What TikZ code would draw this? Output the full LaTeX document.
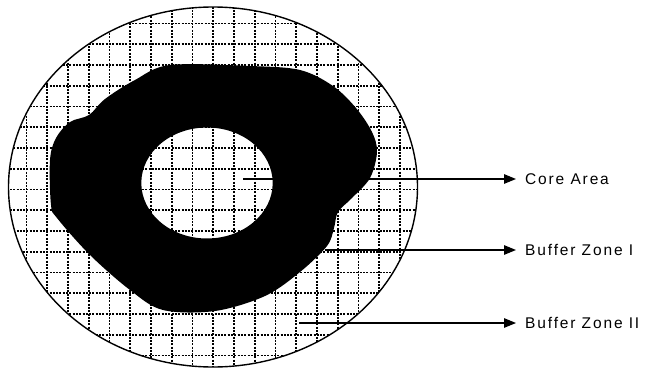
\documentclass[tikz,border=0pt]{standalone}
\usepackage{fontspec}
\newfontfamily\lblfont[LetterSpace=12]{Liberation Sans}
\usetikzlibrary{arrows.meta}
\begin{document}
\begin{tikzpicture}[x=1pt,y=-1pt,
  gridline/.style={line width=1.8pt,dash pattern=on 2pt off 1.3pt},
  rim/.style={line width=1.4pt},
  blob/.style={fill=black,even odd rule},
  pointer/.style={line width=1.2pt,-{Triangle[length=12pt,width=9.5pt]}},
  lbl/.style={anchor=west,inner xsep=9pt,inner ysep=0pt,font=\lblfont\fontsize{15.5}{18}\selectfont}]
\useasboundingbox (0,0) rectangle (663,369);
% grid inside the outer ellipse
\begin{scope}
  \clip (213,187) ellipse [x radius=204.5pt,y radius=180pt];
  \foreach \k in {-10,...,10} {
    \draw[gridline] ({213.3+20.75*\k},0) -- ({213.3+20.75*\k},369);
  }
  \foreach \k in {-1,...,17} {
    \draw[gridline] (0,{23.5+20.75*\k}) -- (420,{23.5+20.75*\k});
  }
\end{scope}
\draw[rim] (213,187) ellipse [x radius=204.5pt,y radius=180pt];
% black ring (buffer zone I) with core hole
\fill[blob] plot[smooth cycle,tension=0.55] coordinates {
  (170,65) (250,66) (300,70) (333,86) (356,108) (372,132) (377,152) (370,178)
  (352,198) (338,212) (334,228) (327,246) (300,272) (265,296) (215,311)
  (163,310) (130,290) (90,255) (57,218) (51,205) (50,160) (56,138)
  (70,122) (89,115) (105,99) (135,80)}
  (207,183) ellipse [x radius=65.7pt,y radius=55.5pt];
% labels and pointers
\coordinate (s1) at (243,179);
\coordinate (s2) at (325,250);
\coordinate (s3) at (299,323);
\node[lbl] (core) at (516,179) {Core Area};
\node[lbl] (bz1) at (516,250) {Buffer Zone I};
\node[lbl] (bz2) at (516,323) {Buffer Zone II};
\draw[pointer] (s1) -- (core.west);
\draw[pointer] (s2) -- (bz1.west);
\draw[pointer] (s3) -- (bz2.west);
\end{tikzpicture}
\end{document}
